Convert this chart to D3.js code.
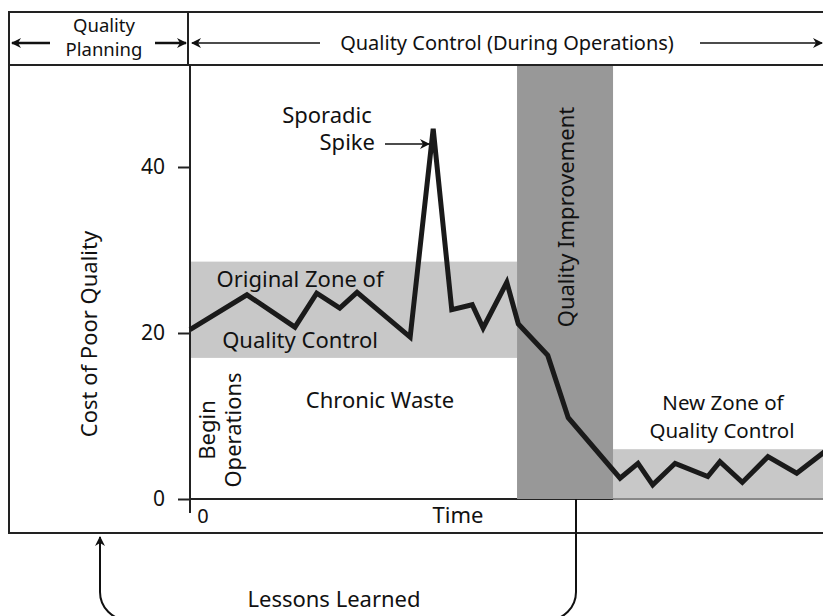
<!DOCTYPE html>
<html>
<head>
<meta charset="utf-8">
<script src="https://cdn.jsdelivr.net/npm/d3@7"></script>
<style>
  body { margin: 0; background: #fff; }
  svg text { font-family: "Noto Sans", "DejaVu Sans", sans-serif; fill: #111; }
</style>
</head>
<body>
<div id="chart"></div>
<script>
// cost of poor quality over time
const times = [0, 8.9, 16.4, 19.8, 23.4, 26.1, 34.4, 38.0, 40.9, 44.1, 45.8, 49.5, 51.3,
               55.9, 59.1, 67.2, 70.0, 72.3, 75.8, 80.9, 82.8, 86.3, 90.3, 94.8, 99.5];
const costs = [20.4, 24.6, 20.7, 24.8, 23.0, 24.9, 19.5, 44.6, 22.8, 23.4, 20.6, 26.1, 21.1,
               17.3, 9.8, 2.5, 4.3, 1.7, 4.3, 2.7, 4.5, 2.0, 5.1, 3.1, 5.9];
const yTicks = [0, 20, 40];
// zones: [start time, end time, low cost, high cost]
const originalZone = [0, 51.1, 17.0, 28.6];
const improvementBand = [51.1, 66.1];
const newZone = [66.1, 102, 0, 6.0];

const W = 823, H = 616;
const svg = d3.select("#chart").append("svg")
    .attr("width", W).attr("height", H);

const x = d3.scaleLinear().domain([0, 100]).range([190, 830]);
const y = d3.scaleLinear().domain([0, 50]).range([499, 84]);

const defs = svg.append("defs");
defs.append("marker")
    .attr("id", "head")
    .attr("viewBox", "0 0 10 10")
    .attr("refX", 9).attr("refY", 5)
    .attr("markerWidth", 14).attr("markerHeight", 10)
    .attr("markerUnits", "userSpaceOnUse")
    .attr("orient", "auto")
    .append("path").attr("d", "M0,0 L10,5 L0,10 L3,5 Z").attr("fill", "#111");

// gray zones
svg.append("rect")
    .attr("x", x(originalZone[0])).attr("width", x(originalZone[1]) - x(originalZone[0]))
    .attr("y", y(originalZone[3])).attr("height", y(originalZone[2]) - y(originalZone[3]))
    .attr("fill", "#c8c8c8");
svg.append("rect")
    .attr("x", x(newZone[0])).attr("width", x(newZone[1]) - x(newZone[0]))
    .attr("y", y(newZone[3])).attr("height", y(newZone[2]) - y(newZone[3]))
    .attr("fill", "#c8c8c8");

// x axis line
svg.append("line")
    .attr("x1", x(0)).attr("x2", W).attr("y1", y(0)).attr("y2", y(0))
    .attr("stroke", "#222").attr("stroke-width", 2);
svg.append("line")
    .attr("x1", x(improvementBand[1])).attr("x2", W).attr("y1", y(0)).attr("y2", y(0))
    .attr("stroke", "#888").attr("stroke-width", 2);

svg.append("rect")
    .attr("x", x(improvementBand[0])).attr("width", x(improvementBand[1]) - x(improvementBand[0]))
    .attr("y", 65).attr("height", y(0) - 65)
    .attr("fill", "#989898");

// y axis
const yAxis = svg.append("g")
    .attr("transform", `translate(${x(0)},0)`)
    .call(d3.axisLeft(y).tickValues(yTicks).tickSize(12).tickPadding(13));
yAxis.select(".domain").remove();
yAxis.selectAll(".tick line").attr("stroke", "#222").attr("stroke-width", 2);
yAxis.selectAll(".tick text").style("font-size", "21px").attr("fill", "#111")
    .style("font-family", '"Noto Sans", sans-serif');
svg.append("line")
    .attr("x1", x(0)).attr("x2", x(0)).attr("y1", 65).attr("y2", 513)
    .attr("stroke", "#222").attr("stroke-width", 2);

// cost line
const line = d3.line().x((d, i) => x(times[i])).y(d => y(d));
svg.append("path")
    .datum(costs)
    .attr("d", line)
    .attr("fill", "none")
    .attr("stroke", "#1a1a1a")
    .attr("stroke-width", 5)
    .attr("stroke-linejoin", "miter")
    .attr("stroke-miterlimit", 4);

// frame and header
const frame = svg.append("g").attr("stroke", "#222").attr("stroke-width", 2).attr("fill", "none");
frame.append("path").attr("d", `M${W + 5},12 H9 V533 H${W + 5}`);
frame.append("line").attr("x1", 9).attr("x2", W + 5).attr("y1", 65).attr("y2", 65);
frame.append("line").attr("x1", 188).attr("x2", 188).attr("y1", 12).attr("y2", 65);

function arrow(x1, y1, x2, y2, w) {
    svg.append("line")
        .attr("x1", x1).attr("y1", y1).attr("x2", x2).attr("y2", y2)
        .attr("stroke", "#111").attr("stroke-width", w || 1.5)
        .attr("marker-end", "url(#head)");
}

function label(txt, tx, ty, size, anchor, rotate) {
    const t = svg.append("text")
        .attr("text-anchor", anchor || "middle")
        .style("font-size", size + "px")
        .text(txt);
    if (rotate) t.attr("transform", `translate(${tx},${ty}) rotate(-90)`);
    else t.attr("x", tx).attr("y", ty);
    return t;
}

label("Quality", 104, 32, 18.5);
label("Planning", 104, 56, 18.5);
arrow(50, 43, 12, 43, 2.5);
arrow(155, 43, 186, 43, 2.5);
arrow(320, 43, 192, 43, 1.5);
label("Quality Control (During Operations)", 507, 50, 20);
arrow(700, 43, 822, 43, 1.5);

label("Sporadic", 327, 123, 22);
label("Spike", 375, 150, 22, "end");
arrow(385, 144, 429, 144, 1.5);

label("Original Zone of", 300, 287, 22);
label("Quality Control", 300, 348, 22);
label("Chronic Waste", 380, 408, 22);
label("Begin", 215, 430, 22, "middle", true);
label("Operations", 241, 430, 22, "middle", true);
label("Cost of Poor Quality", 97, 334, 22, "middle", true);
label("Quality Improvement", 574, 217, 22, "middle", true);
label("New Zone of", 723, 410, 20.5);
label("Quality Control", 722, 438, 20.5);
label("0", 203, 523, 20);
label("Time", 458, 523, 22);
label("Lessons Learned", 334, 607, 22);

// lessons learned loop
const r = 28, bottom = 620, lx = 100, rx = 576;
svg.append("path")
    .attr("d", `M${rx},${y(0)} V${bottom - r} A${r},${r} 0 0 1 ${rx - r},${bottom} H${lx + r} A${r},${r} 0 0 1 ${lx},${bottom - r} V537`)
    .attr("fill", "none").attr("stroke", "#111").attr("stroke-width", 2)
    .attr("marker-end", "url(#head)");
</script>
</body>
</html>
